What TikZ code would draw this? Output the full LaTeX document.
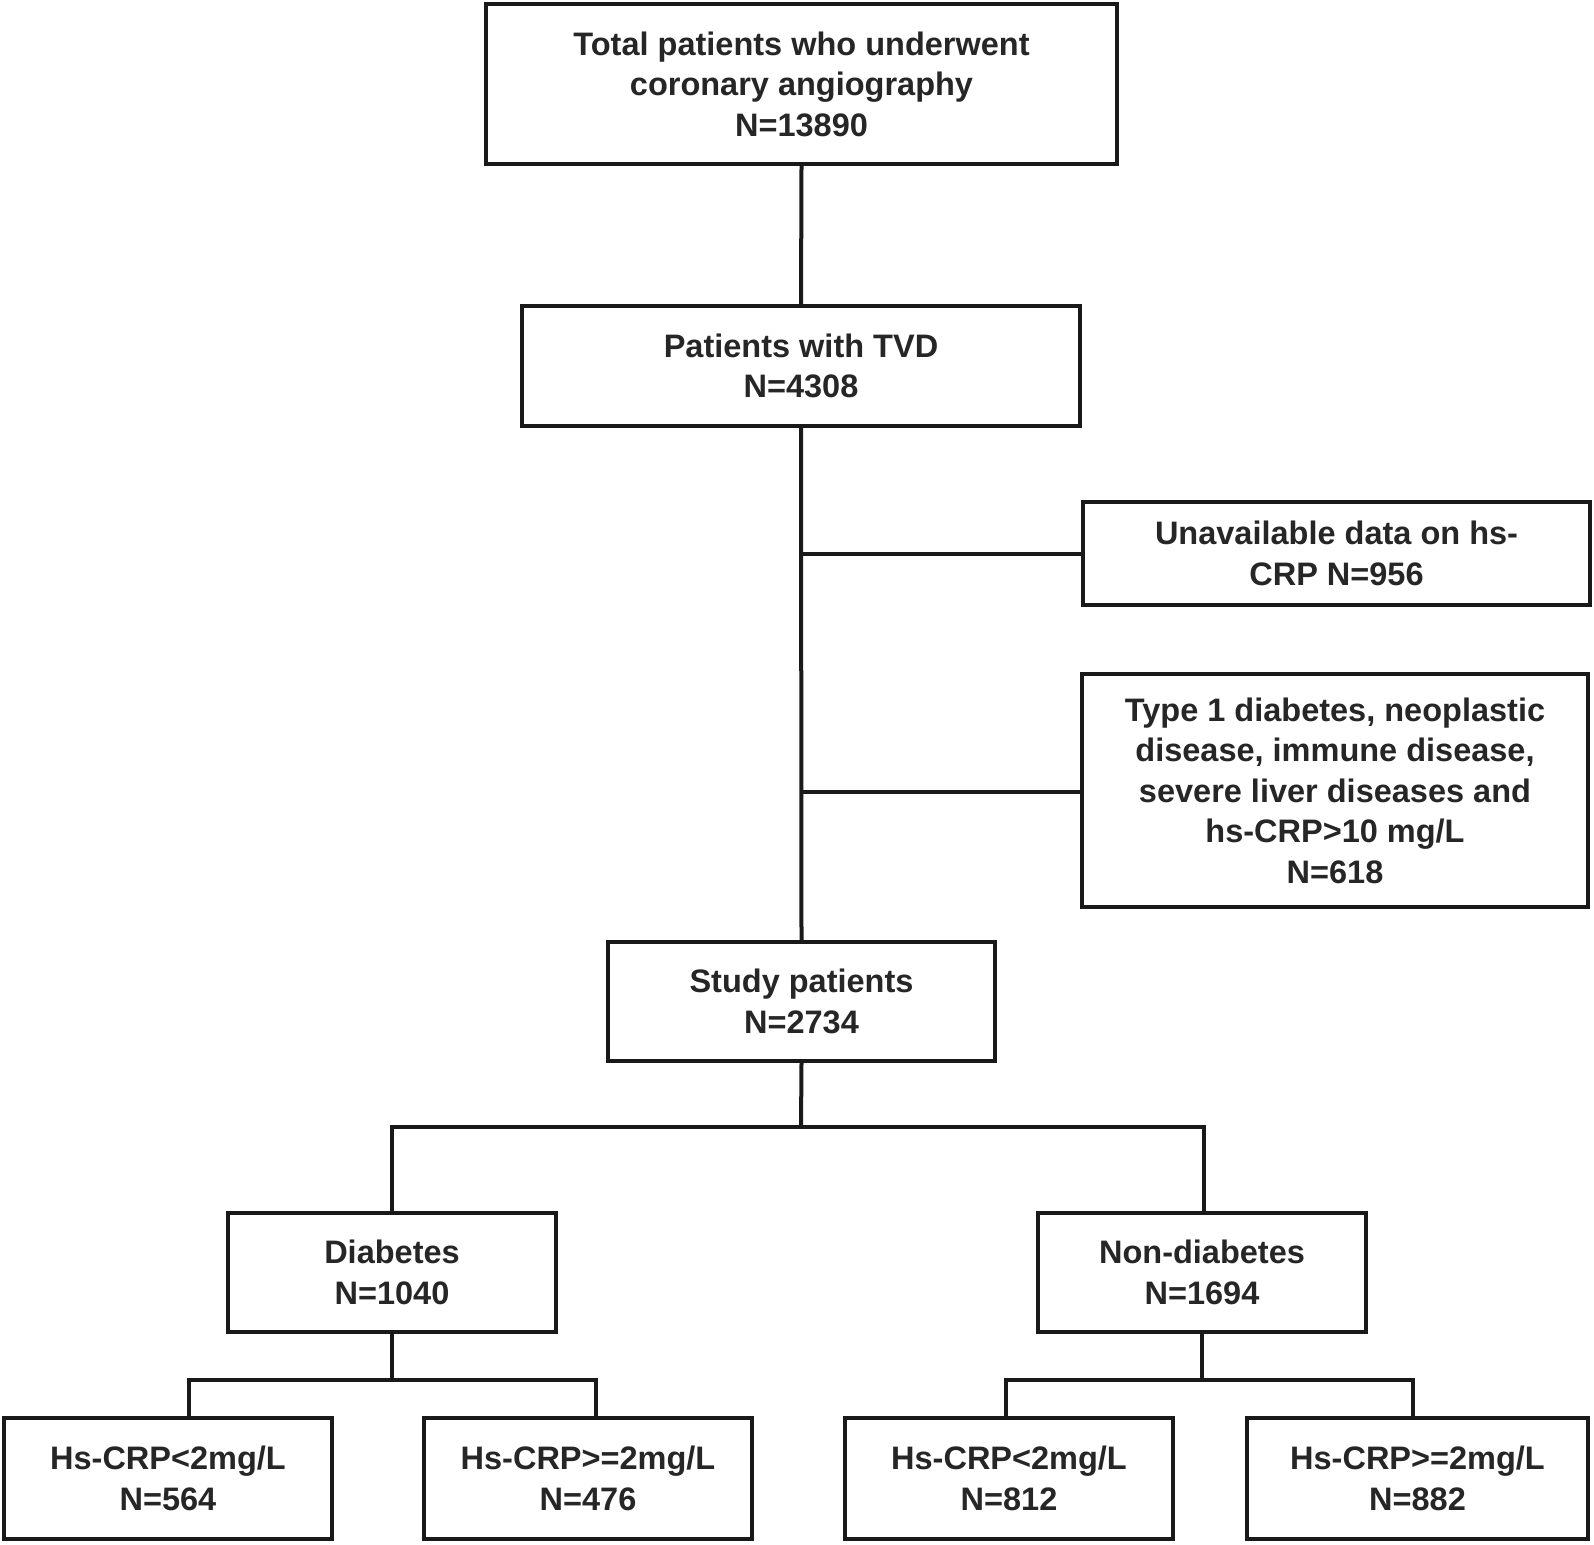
\documentclass[tikz,border=0pt]{standalone}
\usepackage{fontspec}
\setmainfont{Liberation Sans}
\begin{document}
\begin{tikzpicture}[x=1pt,y=-1pt,
  box/.style={draw=black!90, line width=4pt, inner sep=0pt, align=center,
    font=\fontsize{32.5pt}{40.5pt}\selectfont\bfseries, text=black!85},
  conn/.style={draw=black!90, line width=4pt}]
\useasboundingbox[fill=white] (0,0) rectangle (1594,1544);
\node[box, minimum width=631pt, minimum height=160pt] (b1) at (801.5,84)
  {Total patients who underwent\\coronary angiography\\N=13890};
\node[box, minimum width=558pt, minimum height=120pt] (b2) at (801,366)
  {Patients with TVD\\N=4308};
\node[box, minimum width=507pt, minimum height=103pt] (b3) at (1336.5,553.5)
  {Unavailable data on hs-\\CRP N=956};
\node[box, minimum width=506pt, minimum height=233pt] (b4) at (1335,790.5)
  {Type 1 diabetes, neoplastic\\disease, immune disease,\\severe liver diseases and\\hs-CRP>10 mg/L\\N=618};
\node[box, minimum width=387pt, minimum height=119pt] (b5) at (801.5,1001.5)
  {Study patients\\N=2734};
\node[box, minimum width=328pt, minimum height=119pt] (b6) at (392,1272.5)
  {Diabetes\\N=1040};
\node[box, minimum width=328pt, minimum height=119pt] (b7) at (1202,1272.5)
  {Non-diabetes\\N=1694};
\node[box, minimum width=328pt, minimum height=121pt] (l1) at (168,1478.5)
  {Hs-CRP<2mg/L\\N=564};
\node[box, minimum width=328pt, minimum height=121pt] (l2) at (588,1478.5)
  {Hs-CRP>=2mg/L\\N=476};
\node[box, minimum width=328pt, minimum height=121pt] (l3) at (1009,1478.5)
  {Hs-CRP<2mg/L\\N=812};
\node[box, minimum width=341pt, minimum height=121pt] (l4) at (1417.5,1478.5)
  {Hs-CRP>=2mg/L\\N=882};
% junction coordinates
\coordinate (t1) at (801,554);
\coordinate (t2) at (801,792);
\coordinate (j0) at (801,1127);
\coordinate (ja) at (392,1127);
\coordinate (jb) at (1204,1127);
\coordinate (k1) at (189,1380);
\coordinate (k2) at (596,1380);
\coordinate (k3) at (1006,1380);
\coordinate (k4) at (1413,1380);
% connectors
\draw[conn] (b1.south) -- (b2.north);
\draw[conn] (b2.south) -- (b5.north);
\draw[conn] (t1) -- (t1 -| b3.west);
\draw[conn] (t2) -- (t2 -| b4.west);
\draw[conn] (b5.south) -- (j0);
\draw[conn, line cap=rect] (ja) -- (jb);
\draw[conn] (ja) -- (b6.north);
\draw[conn] (jb) -- (jb |- b7.north);
\draw[conn] (b6.south) -- (b6.south |- k1);
\draw[conn, line cap=rect] (k1) -- (k2);
\draw[conn] (k1) -- (k1 |- l1.north);
\draw[conn] (k2) -- (k2 |- l2.north);
\draw[conn] (b7.south) -- (b7.south |- k3);
\draw[conn, line cap=rect] (k3) -- (k4);
\draw[conn] (k3) -- (k3 |- l3.north);
\draw[conn] (k4) -- (k4 |- l4.north);
\end{tikzpicture}
\end{document}
